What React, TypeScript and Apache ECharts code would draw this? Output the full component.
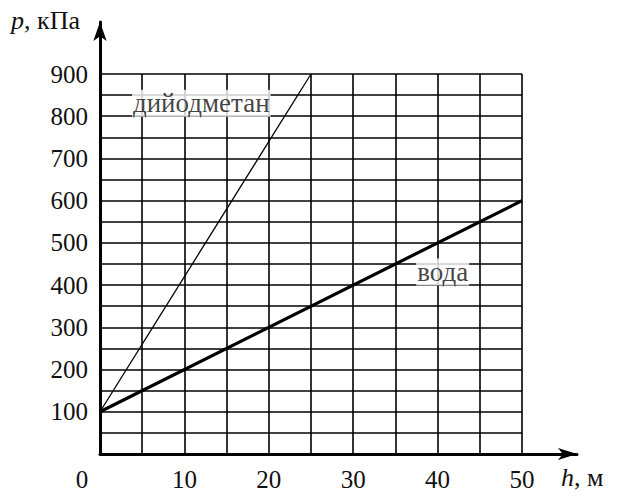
import React, { useEffect, useRef } from "react";
import * as echarts from "echarts";

const waterData: [number, number][] = [[0, 100], [50, 600]];
const diiodoData: [number, number][] = [[0, 100], [25, 900]];
const seriesNames = ["вода", "дийодметан"];
const labelPoints: [number, number, string][] = [[12, 831, "дийодметан"], [40.6, 431, "вода"]];
const xTickStep = 5;
const xLabelStep = 10;
const yTickStep = 50;
const yLabelStep = 100;

const FONT = "'Liberation Serif', 'Times New Roman', serif";

export default function App() {
  const ref = useRef<HTMLDivElement>(null);
  useEffect(() => {
    const chart = echarts.init(ref.current!, undefined, { renderer: "svg" });
    chart.setOption({
      animation: false,
      backgroundColor: "#fff",
      textStyle: { fontFamily: FONT },
      grid: [
        { left: 100, top: 74, width: 422, height: 380 },
        { left: 100, top: 22, width: 477, height: 432 },
      ],
      xAxis: [
        {
          gridIndex: 0, type: "value", min: 0, max: 50, interval: xTickStep,
          axisLine: { show: false }, axisTick: { show: false },
          splitLine: { show: true, lineStyle: { color: "#000", width: 1.6 } },
          axisLabel: {
            margin: 13, color: "#111", fontFamily: FONT, fontSize: 25,
            formatter: (v: number) => (v === 0 ? "{z|0}" : v % xLabelStep === 0 ? String(v) : ""),
            rich: { z: { fontFamily: FONT, fontSize: 25, color: "#111", padding: [0, 36, 0, 0] } },
          },
        },
        {
          gridIndex: 1, type: "value", min: 0, max: 1,
          axisLine: { show: true, lineStyle: { color: "#000", width: 3 }, symbol: ["none", "arrow"], symbolSize: [9, 19] },
          axisTick: { show: false }, axisLabel: { show: false }, splitLine: { show: false },
        },
      ],
      yAxis: [
        {
          gridIndex: 0, type: "value", min: 0, max: 900, interval: yTickStep,
          axisLine: { show: false }, axisTick: { show: false },
          splitLine: { show: true, lineStyle: { color: "#000", width: 1.6 } },
          axisLabel: {
            margin: 12, color: "#111", fontFamily: FONT, fontSize: 25,
            formatter: (v: number) => (v !== 0 && v % yLabelStep === 0 ? String(v) : ""),
          },
        },
        {
          gridIndex: 1, type: "value", min: 0, max: 1,
          axisLine: { show: true, lineStyle: { color: "#000", width: 3 }, symbol: ["none", "arrow"], symbolSize: [10, 19] },
          axisTick: { show: false }, axisLabel: { show: false }, splitLine: { show: false },
        },
      ],
      series: [
        {
          name: seriesNames[0], type: "line", xAxisIndex: 0, yAxisIndex: 0, data: waterData,
          symbol: "none", lineStyle: { color: "#000", width: 3.2 }, z: 5,
        },
        {
          name: seriesNames[1], type: "line", xAxisIndex: 0, yAxisIndex: 0, data: diiodoData,
          symbol: "none", lineStyle: { color: "#000", width: 1.3 }, z: 5,
        },
        {
          type: "scatter", xAxisIndex: 0, yAxisIndex: 0, data: labelPoints, symbolSize: 0, z: 10,
          label: {
            show: true, position: "inside", formatter: (p: any) => p.data[2],
            fontFamily: FONT, fontSize: 27, color: "#111", backgroundColor: "#fff", padding: [0, 1],
          },
          silent: true,
        },
      ],
      graphic: [
        {
          type: "text", left: 11, top: 7,
          style: {
            text: "{i|p}, кПа", fontFamily: FONT, fontSize: 26, fill: "#111",
            rich: { i: { fontStyle: "italic", fontFamily: FONT, fontSize: 26, fill: "#111" } },
          },
        },
        {
          type: "text", left: 561, top: 464,
          style: {
            text: "{i|h}, м", fontFamily: FONT, fontSize: 26, fill: "#111",
            rich: { i: { fontStyle: "italic", fontFamily: FONT, fontSize: 26, fill: "#111" } },
          },
        },
      ],
    });
    return () => chart.dispose();
  }, []);
  return <div ref={ref} style={{ position: "fixed", left: 0, top: 0, width: 619, height: 502 }} />;
}
